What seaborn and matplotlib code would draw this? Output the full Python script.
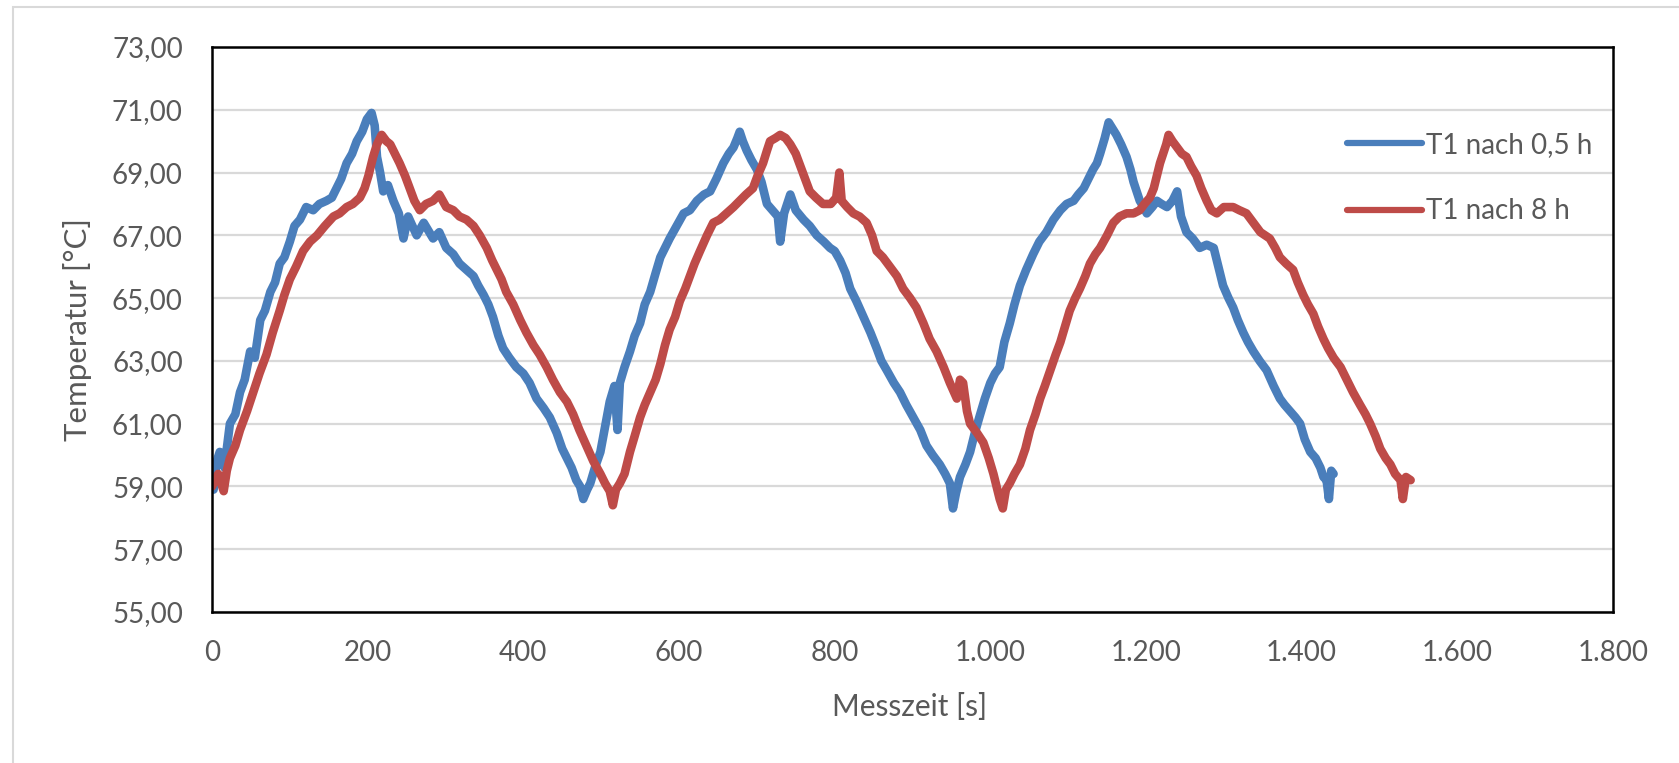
import numpy as np
import pandas as pd
import matplotlib
matplotlib.use("Agg")
import matplotlib.pyplot as plt
from matplotlib.patches import Rectangle
from matplotlib.lines import Line2D
from matplotlib.ticker import FuncFormatter
import seaborn as sns

# ---------------- data ----------------
t_blue = [0, 2, 6, 10, 16, 23, 30, 36, 42, 49, 55, 62, 68, 75, 81, 87, 93, 100, 106, 113,
          121, 130, 138, 147, 154, 160, 166, 173, 180, 186, 193, 199, 205, 209, 212, 216, 220,
          226, 233, 240, 246, 252, 263, 272, 284, 292, 301, 310, 318, 327, 336, 342, 349, 355,
          361, 368, 374, 382, 391, 400, 408, 417, 426, 434, 443, 450, 456, 462, 468, 473, 477,
          482, 486, 492, 499, 505, 511, 517, 521, 524, 530, 537, 543, 550, 556, 563, 570, 576,
          582, 588, 597, 606, 614, 623, 632, 640, 648, 657, 664, 670, 675, 678, 682, 687, 693,
          700, 706, 713, 720, 727, 730, 735, 743, 750, 760, 768, 777, 786, 794, 800, 807, 814,
          820, 828, 837, 846, 854, 860, 867, 876, 884, 892, 901, 910, 918, 926, 935, 942, 948,
          952, 956, 961, 968, 974, 980, 987, 993, 1000, 1006, 1012, 1018, 1025, 1031, 1038,
          1046, 1055, 1063, 1072, 1081, 1090, 1098, 1107, 1113, 1120, 1126, 1132, 1137, 1141,
          1147, 1152, 1157, 1162, 1168, 1175, 1180, 1184, 1188, 1192, 1197, 1201, 1208, 1214,
          1220, 1227, 1234, 1240, 1245, 1252, 1260, 1269, 1278, 1287, 1293, 1299, 1306, 1312,
          1318, 1325, 1331, 1338, 1346, 1355, 1364, 1372, 1378, 1385, 1392, 1398, 1404, 1411,
          1418, 1424, 1428, 1432, 1435, 1438, 1441]
T_blue = [59.3, 58.9, 59.8, 60.1, 59.6, 61.0, 61.3, 62.0, 62.4, 63.3, 63.1, 64.3, 64.6, 65.2,
          65.5, 66.1, 66.3, 66.8, 67.3, 67.5, 67.9, 67.8, 68.0, 68.1, 68.2, 68.5, 68.8, 69.3,
          69.6, 70.0, 70.3, 70.7, 70.9, 70.5, 69.5, 69.0, 68.4, 68.6, 68.1, 67.7, 66.9, 67.6,
          67.0, 67.4, 66.9, 67.1, 66.6, 66.4, 66.1, 65.9, 65.7, 65.4, 65.1, 64.8, 64.4, 63.8,
          63.4, 63.1, 62.8, 62.6, 62.3, 61.8, 61.5, 61.2, 60.7, 60.2, 59.9, 59.6, 59.2, 59.0,
          58.6, 58.9, 59.1, 59.6, 60.1, 60.9, 61.7, 62.2, 60.8, 62.3, 62.8, 63.3, 63.8, 64.2,
          64.8, 65.2, 65.8, 66.3, 66.6, 66.9, 67.3, 67.7, 67.8, 68.1, 68.3, 68.4, 68.8, 69.3,
          69.6, 69.8, 70.1, 70.3, 70.0, 69.7, 69.4, 69.1, 68.7, 68.0, 67.8, 67.6, 66.8, 67.7,
          68.3, 67.8, 67.5, 67.3, 67.0, 66.8, 66.6, 66.5, 66.2, 65.8, 65.3, 64.9, 64.4, 63.9,
          63.4, 63.0, 62.7, 62.3, 62.0, 61.6, 61.2, 60.8, 60.3, 60.0, 59.7, 59.4, 59.1, 58.3,
          58.8, 59.3, 59.7, 60.1, 60.7, 61.3, 61.8, 62.3, 62.6, 62.8, 63.6, 64.2, 64.8, 65.4,
          65.9, 66.4, 66.8, 67.1, 67.5, 67.8, 68.0, 68.1, 68.3, 68.5, 68.8, 69.1, 69.3, 69.6,
          70.1, 70.6, 70.4, 70.2, 69.9, 69.5, 69.1, 68.7, 68.4, 68.1, 67.9, 67.7, 67.9, 68.1,
          68.0, 67.9, 68.1, 68.4, 67.6, 67.1, 66.9, 66.6, 66.7, 66.6, 66.0, 65.4, 65.0, 64.7,
          64.3, 63.9, 63.6, 63.3, 63.0, 62.7, 62.2, 61.8, 61.6, 61.4, 61.2, 61.0, 60.5, 60.1,
          59.9, 59.6, 59.3, 59.2, 58.6, 59.5, 59.4]

t_red = [0, 2, 8, 15, 19, 23, 30, 36, 45, 53, 61, 70, 78, 87, 93, 100, 108, 117, 126, 135,
         145, 156, 164, 173, 181, 190, 196, 201, 207, 212, 218, 224, 229, 235, 241, 248, 254,
         260, 267, 275, 284, 292, 301, 310, 318, 327, 336, 344, 353, 360, 366, 372, 378, 387,
         396, 404, 413, 421, 430, 438, 447, 456, 464, 472, 481, 490, 499, 505, 511, 515, 519,
         524, 530, 537, 543, 550, 556, 563, 570, 576, 582, 588, 595, 601, 608, 614, 620, 627,
         636, 644, 652, 661, 670, 678, 686, 695, 701, 708, 713, 717, 724, 730, 737, 743, 750,
         756, 762, 768, 776, 785, 795, 802, 806, 809, 816, 824, 832, 841, 848, 854, 862, 871,
         880, 888, 897, 905, 914, 922, 931, 940, 948, 957, 961, 965, 970, 974, 983, 991, 998,
         1004, 1008, 1012, 1016, 1020, 1025, 1031, 1038, 1045, 1051, 1058, 1064, 1070, 1077,
         1084, 1090, 1096, 1102, 1109, 1115, 1122, 1128, 1135, 1141, 1150, 1158, 1166, 1175,
         1184, 1192, 1198, 1205, 1210, 1214, 1218, 1222, 1226, 1229, 1234, 1240, 1246, 1252,
         1258, 1265, 1271, 1278, 1284, 1291, 1300, 1312, 1320, 1329, 1338, 1347, 1353, 1359,
         1366, 1372, 1380, 1389, 1395, 1402, 1408, 1415, 1421, 1428, 1434, 1441, 1450, 1458,
         1466, 1475, 1482, 1488, 1495, 1501, 1508, 1514, 1520, 1527, 1530, 1534, 1540]
T_red = [59.0, 59.1, 59.4, 58.85, 59.5, 59.9, 60.3, 60.8, 61.4, 62.0, 62.6, 63.2, 63.9, 64.6,
         65.1, 65.6, 66.0, 66.5, 66.8, 67.0, 67.3, 67.6, 67.7, 67.9, 68.0, 68.2, 68.5, 68.9,
         69.5, 69.9, 70.2, 70.0, 69.9, 69.6, 69.3, 68.9, 68.5, 68.1, 67.8, 68.0, 68.1, 68.3,
         67.9, 67.8, 67.6, 67.5, 67.3, 67.0, 66.6, 66.2, 65.9, 65.6, 65.2, 64.8, 64.3, 63.9,
         63.5, 63.2, 62.8, 62.4, 62.0, 61.7, 61.3, 60.8, 60.3, 59.8, 59.4, 59.1, 58.85, 58.4,
         58.9, 59.1, 59.4, 60.1, 60.6, 61.2, 61.6, 62.0, 62.4, 62.9, 63.5, 64.0, 64.4, 64.9,
         65.3, 65.7, 66.1, 66.5, 67.0, 67.4, 67.5, 67.7, 67.9, 68.1, 68.3, 68.5, 68.9, 69.3,
         69.7, 70.0, 70.1, 70.2, 70.1, 69.9, 69.6, 69.2, 68.8, 68.4, 68.2, 68.0, 68.0, 68.2,
         69.0, 68.1, 67.9, 67.7, 67.6, 67.4, 67.0, 66.5, 66.3, 66.0, 65.7, 65.3, 65.0, 64.7,
         64.2, 63.7, 63.3, 62.8, 62.3, 61.8, 62.4, 62.3, 61.4, 61.0, 60.7, 60.4, 59.9, 59.4,
         59.0, 58.6, 58.3, 58.9, 59.1, 59.4, 59.7, 60.2, 60.8, 61.3, 61.8, 62.2, 62.7, 63.2,
         63.6, 64.1, 64.6, 65.0, 65.3, 65.7, 66.1, 66.4, 66.6, 67.0, 67.4, 67.6, 67.7, 67.7,
         67.8, 68.0, 68.2, 68.5, 68.9, 69.3, 69.6, 69.9, 70.2, 70.0, 69.8, 69.6, 69.5, 69.2,
         68.9, 68.5, 68.1, 67.8, 67.7, 67.9, 67.9, 67.8, 67.7, 67.4, 67.1, 67.0, 66.9, 66.6,
         66.3, 66.1, 65.9, 65.5, 65.1, 64.8, 64.5, 64.1, 63.7, 63.4, 63.1, 62.8, 62.4, 62.0,
         61.6, 61.3, 61.0, 60.6, 60.2, 59.9, 59.7, 59.4, 59.2, 58.6, 59.3, 59.2]

series_names = ["T1 nach 0,5 h", "T1 nach 8 h"]
series_colors = ["#4A7EBB", "#BE4B48"]
y_ticks = [55, 57, 59, 61, 63, 65, 67, 69, 71, 73]
x_ticks = [0, 200, 400, 600, 800, 1000, 1200, 1400, 1600, 1800]
x_label = "Messzeit [s]"
y_label = "Temperatur [°C]"

df = pd.concat([
    pd.DataFrame({"t": t_blue, "T": T_blue, "Serie": series_names[0]}),
    pd.DataFrame({"t": t_red, "T": T_red, "Serie": series_names[1]}),
], ignore_index=True)

# ---------------- style ----------------
sns.set_style("white")
plt.rcParams["font.family"] = ["Lato", "DejaVu Sans"]
text_col = "#595959"

W, H = 1679, 763
fig = plt.figure(figsize=(W / 100, H / 100), dpi=100)
fig.patch.set_facecolor("white")
ax = fig.add_axes([212 / W, 1 - 612 / H, 1401 / W, 565 / H])

sns.lineplot(data=df, x="t", y="T", hue="Serie", palette=series_colors,
             linewidth=6.2, sort=False, estimator=None, ax=ax, legend=False, zorder=3)

ax.set_xlim(0, 1800)
ax.set_ylim(55, 73)
ax.set_xticks(x_ticks)
ax.set_yticks(y_ticks)
ax.xaxis.set_major_formatter(FuncFormatter(lambda v, p: f"{int(v):,}".replace(",", ".")))
ax.yaxis.set_major_formatter(FuncFormatter(lambda v, p: f"{v:.2f}".replace(".", ",")))
ax.tick_params(axis="both", length=0, labelsize=20, colors=text_col)
ax.tick_params(axis="y", pad=21)
ax.tick_params(axis="x", pad=20)

ax.grid(axis="y", color="#d9d9d9", linewidth=1.6, zorder=0)
ax.grid(axis="x", visible=False)
for s in ax.spines.values():
    s.set_visible(True)
    s.set_color("black")
    s.set_linewidth(1.8)
    s.set_zorder(5)

ax.set_xlabel(x_label, fontsize=21.5, color=text_col)
ax.set_ylabel(y_label, fontsize=22.5, color=text_col)
ax.xaxis.label.set_va("center")
ax.yaxis.label.set_va("center")
ax.xaxis.set_label_coords((910 - 212) / 1401, (612 - 707) / 565)
ax.yaxis.set_label_coords((78 - 212) / 1401, 0.5)

handles = [Line2D([0], [0], color=c, linewidth=4.5, solid_capstyle="round") for c in series_colors]
leg = ax.legend(handles, series_names, loc="upper left",
                bbox_to_anchor=((1347 - 212) / 1401, 1 - (132 - 47) / 565),
                frameon=False, fontsize=20, handlelength=2.7, handletextpad=0.15,
                labelspacing=1.45, borderpad=0, borderaxespad=0)
for txt in leg.get_texts():
    txt.set_color(text_col)

# outer chart-area border
fig.patches.append(Rectangle((13 / W, -0.05), 1.2, (1 - 7 / H) + 0.05,
                             transform=fig.transFigure, fill=False,
                             edgecolor="#d9d9d9", linewidth=1.5))

fig.savefig("out.png", dpi=100, facecolor="white")
